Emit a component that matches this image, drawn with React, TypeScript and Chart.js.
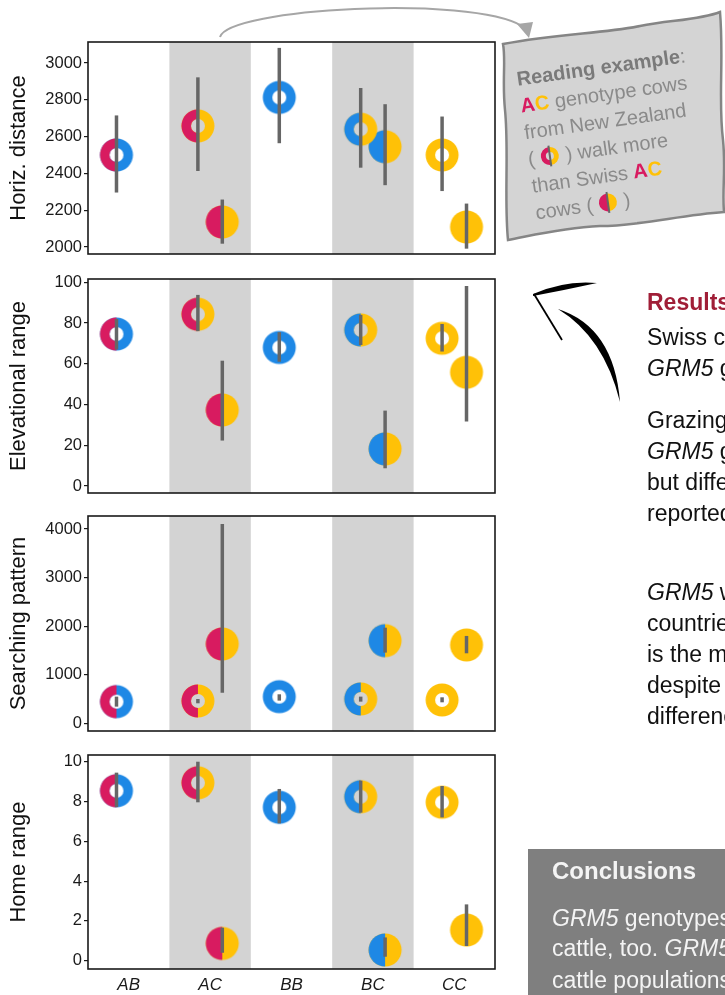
import React, { useEffect, useRef } from 'react';
import { Chart, registerables } from 'chart.js';

Chart.register(...registerables);

// ---------------- data ----------------
const categories = ['AB', 'AC', 'BB', 'BC', 'CC'];
const shadedCategories = ['AC', 'BC'];

// Horizontal distance
const horizTicks = [2000, 2200, 2400, 2600, 2800, 3000];
const horizNZ = [2500, 2658, 2813, 2640, 2500];
const horizNZLo = [2296, 2413, 2564, 2431, 2304];
const horizNZHi = [2715, 2922, 3082, 2864, 2709];
const horizCH = [null, 2136, null, 2545, 2109];
const horizCHLo = [null, 2018, null, 2336, 1991];
const horizCHHi = [null, 2258, null, 2776, 2236];

// Elevational range
const elevTicks = [0, 20, 40, 60, 80, 100];
const elevNZ = [74.6, 84.3, 68, 76.6, 72.5];
const elevNZLo = [67, 76, 61, 69.2, 66];
const elevNZHi = [82, 93.8, 75.5, 84, 79.5];
const elevCH = [null, 37.3, null, 18.2, 55.8];
const elevCHLo = [null, 22.3, null, 8.7, 31.6];
const elevCHHi = [null, 61.5, null, 37, 98.2];

// Searching pattern
const searchTicks = [0, 1000, 2000, 3000, 4000];
const searchNZ = [446, 460, 549, 501, 480];
const searchNZLo = [343, 412, 467, 446, 432];
const searchNZHi = [549, 500, 597, 549, 535];
const searchCH = [null, 1633, null, 1702, 1612];
const searchCHLo = [null, 631, null, 1455, 1441];
const searchCHHi = [null, 4103, null, 1969, 1798];

// Home range
const homeTicks = [0, 2, 4, 6, 8, 10];
const homeNZ = [8.54, 8.94, 7.71, 8.24, 7.96];
const homeNZLo = [7.72, 7.96, 6.9, 7.44, 7.2];
const homeNZHi = [9.45, 10.0, 8.63, 9.05, 8.78];
const homeCH = [null, 0.87, null, 0.54, 1.54];
const homeCHLo = [null, 0.4, null, 0.2, 0.74];
const homeCHHi = [null, 1.66, null, 1.17, 2.83];

// ---------------- styles ----------------
const FONT = "'Liberation Sans', Arial, Helvetica, sans-serif";
const PINK = '#D81B60';
const BLUE = '#1E88E5';
const YELLOW = '#FFC107';
const alleleColor: Record<string, string> = { A: PINK, B: BLUE, C: YELLOW };
const ERR = '#666666';
const BAND = '#D3D3D3';
const OFFSET = 0.15;

function makeMarker(g: string, filled: boolean): HTMLCanvasElement {
  const s = 36;
  const c = document.createElement('canvas');
  c.width = s;
  c.height = s;
  const ctx = c.getContext('2d')!;
  const cx = s / 2, cy = s / 2, R = 16.5, r = 7;
  ctx.beginPath();
  ctx.arc(cx, cy, R, 0, Math.PI * 2);
  if (!filled) ctx.arc(cx, cy, r, 0, Math.PI * 2, true);
  ctx.fillStyle = alleleColor[g[1]];
  ctx.fill('evenodd');
  if (g[0] !== g[1]) {
    ctx.beginPath();
    ctx.arc(cx, cy, R, Math.PI / 2, Math.PI * 1.5);
    if (!filled) ctx.arc(cx, cy, r, Math.PI * 1.5, Math.PI / 2, true);
    else ctx.lineTo(cx, cy + R);
    ctx.closePath();
    ctx.fillStyle = alleleColor[g[0]];
    ctx.fill();
  }
  return c;
}

type Vals = (number | null)[];
interface PanelProps {
  title: string;
  ticks: number[];
  min: number;
  max: number;
  nz: Vals; nzLo: Vals; nzHi: Vals;
  ch: Vals; chLo: Vals; chHi: Vals;
  top: number;
  height: number;
  showX: boolean;
}

function Panel(p: PanelProps) {
  const ref = useRef<HTMLCanvasElement>(null);
  useEffect(() => {
    const markers: Record<string, { ring: HTMLCanvasElement; full: HTMLCanvasElement }> = {};
    categories.forEach((g) => {
      markers[g] = { ring: makeMarker(g, false), full: makeMarker(g, true) };
    });
    const mk = (vals: Vals, off: number) =>
      vals
        .map((v, i) => (v == null ? null : { x: i + 1 + off, y: v, g: categories[i] }))
        .filter((d) => d != null);

    const decor = {
      id: 'decor',
      beforeDatasetsDraw(chart: any) {
        const { ctx, chartArea: a, scales } = chart;
        const x = scales.x;
        ctx.save();
        ctx.fillStyle = BAND;
        categories.forEach((c, i) => {
          if (!shadedCategories.includes(c)) return;
          const l = x.getPixelForValue(i + 0.5);
          const r = x.getPixelForValue(i + 1.5);
          ctx.fillRect(l, a.top, r - l, a.bottom - a.top);
        });
        ctx.restore();
      },
      afterDatasetsDraw(chart: any) {
        const { ctx, chartArea: a, scales } = chart;
        const x = scales.x, y = scales.y;
        ctx.save();
        ctx.strokeStyle = ERR;
        ctx.lineWidth = 3.5;
        ctx.lineCap = 'butt';
        const draw = (lo: Vals, hi: Vals, off: number) => {
          lo.forEach((l, i) => {
            const h = hi[i];
            if (l == null || h == null) return;
            const px = x.getPixelForValue(i + 1 + off);
            ctx.beginPath();
            ctx.moveTo(px, y.getPixelForValue(l));
            ctx.lineTo(px, y.getPixelForValue(h));
            ctx.stroke();
          });
        };
        draw(p.nzLo, p.nzHi, -OFFSET);
        draw(p.chLo, p.chHi, OFFSET);
        ctx.strokeStyle = '#1a1a1a';
        ctx.lineWidth = 1.6;
        ctx.strokeRect(a.left, a.top, a.right - a.left, a.bottom - a.top);
        ctx.restore();
      },
    };

    const chart = new Chart(ref.current!, {
      type: 'scatter',
      data: {
        datasets: [
          {
            label: 'New Zealand',
            data: mk(p.nz, -OFFSET) as any,
            pointRadius: 16,
            pointStyle: (c: any) => (c.raw ? markers[c.raw.g].ring : 'circle'),
          },
          {
            label: 'Switzerland',
            data: mk(p.ch, OFFSET) as any,
            pointRadius: 16,
            pointStyle: (c: any) => (c.raw ? markers[c.raw.g].full : 'circle'),
          },
        ],
      },
      options: {
        animation: false,
        responsive: false,
        events: [],
        layout: {
          autoPadding: false,
          padding: { top: 12, bottom: p.showX ? 0 : 12, left: 0, right: 5 },
        },
        plugins: { legend: { display: false }, tooltip: { enabled: false } },
        datasets: { scatter: { clip: false } as any },
        scales: {
          x: {
            type: 'linear',
            min: 0.5,
            max: 5.5,
            display: p.showX,
            grid: { display: false, drawTicks: false },
            border: { display: false },
            afterBuildTicks: (s: any) => {
              s.ticks = categories.map((_, i) => ({ value: i + 1 }));
            },
            afterFit: (s: any) => {
              s.height = p.showX ? 30 : 0;
              s.paddingLeft = 0;
              s.paddingRight = 0;
              s.paddingTop = 0;
              s.paddingBottom = 0;
            },
            ticks: {
              autoSkip: false,
              maxRotation: 0,
              padding: 6,
              color: '#1a1a1a',
              font: { family: FONT, size: 17, style: 'italic' },
              callback: (v: any) => categories[Math.round(Number(v)) - 1] ?? '',
            },
          },
          y: {
            type: 'linear',
            min: p.min,
            max: p.max,
            afterBuildTicks: (s: any) => {
              s.ticks = p.ticks.map((v) => ({ value: v }));
            },
            afterFit: (s: any) => {
              s.width = 88;
              s.paddingLeft = 0;
              s.paddingRight = 0;
              s.paddingTop = 0;
              s.paddingBottom = 0;
            },
            grid: { drawOnChartArea: false, drawTicks: true, tickLength: 4, color: '#1a1a1a', lineWidth: 1.2 },
            border: { display: false },
            ticks: {
              padding: 2,
              color: '#1a1a1a',
              font: { family: FONT, size: 16.5 },
              callback: (v: any) => String(v),
            },
            title: {
              display: true,
              text: p.title,
              color: '#111',
              font: { family: FONT, size: 22 },
              padding: { top: 6, bottom: 0 },
            },
          },
        },
      },
      plugins: [decor],
    } as any);
    return () => chart.destroy();
  }, []);
  return (
    <canvas
      ref={ref}
      width={500}
      height={p.height}
      style={{ position: 'absolute', left: 0, top: p.top, width: 500, height: p.height }}
    />
  );
}

function Icon({ filled }: { filled: boolean }) {
  return (
    <svg width="20" height="22" viewBox="0 0 20 22" style={{ verticalAlign: '-4px' }}>
      {filled ? (
        <>
          <path d="M10 2 A9 9 0 0 0 10 20 Z" fill={PINK} />
          <path d="M10 2 A9 9 0 0 1 10 20 Z" fill={YELLOW} />
        </>
      ) : (
        <>
          <path d="M10 2 A9 9 0 0 0 10 20 L10 15 A4 4 0 0 1 10 7 Z" fill={PINK} />
          <path d="M10 2 A9 9 0 0 1 10 20 L10 15 A4 4 0 0 0 10 7 Z" fill={YELLOW} />
        </>
      )}
      <line x1="10" y1="0.5" x2="10" y2="21.5" stroke="#666" strokeWidth="2" />
    </svg>
  );
}

function TextLine({ x, y, size, lh, children, style }: any) {
  return (
    <div
      style={{
        position: 'absolute',
        left: x,
        top: y - lh / 2,
        height: lh,
        lineHeight: lh + 'px',
        fontSize: size,
        fontFamily: FONT,
        whiteSpace: 'nowrap',
        ...style,
      }}
    >
      {children}
    </div>
  );
}

export default function App() {
  const I = (t: string) => <i>{t}</i>;
  const resultsLines: [number, React.ReactNode][] = [
    [337, <>Swiss cows differed</>],
    [368, <>{I('GRM5')} genotypes</>],
    [420, <>Grazing behaviour</>],
    [451, <>{I('GRM5')} genotypes</>],
    [482, <>but different</>],
    [513, <>reported</>],
    [592, <>{I('GRM5')} was</>],
    [623, <>countries</>],
    [654, <>is the most</>],
    [685, <>despite</>],
    [716, <>differences</>],
  ];
  return (
    <div
      style={{
        position: 'fixed',
        left: 0,
        top: 0,
        width: 725,
        height: 995,
        overflow: 'hidden',
        background: '#ffffff',
      }}
    >
      <Panel title="Horiz. distance" ticks={horizTicks} min={1962} max={3114}
        nz={horizNZ} nzLo={horizNZLo} nzHi={horizNZHi} ch={horizCH} chLo={horizCHLo} chHi={horizCHHi}
        top={30} height={236} showX={false} />
      <Panel title="Elevational range" ticks={elevTicks} min={-3.44} max={101.6}
        nz={elevNZ} nzLo={elevNZLo} nzHi={elevNZHi} ch={elevCH} chLo={elevCHLo} chHi={elevCHHi}
        top={267} height={238} showX={false} />
      <Panel title="Searching pattern" ticks={searchTicks} min={-158.5} max={4267.6}
        nz={searchNZ} nzLo={searchNZLo} nzHi={searchNZHi} ch={searchCH} chLo={searchCHLo} chHi={searchCHHi}
        top={504} height={239} showX={false} />
      <Panel title="Home range" ticks={homeTicks} min={-0.417} max={10.337}
        nz={homeNZ} nzLo={homeNZLo} nzHi={homeNZHi} ch={homeCH} chLo={homeCHLo} chHi={homeCHHi}
        top={743} height={256} showX={true} />

      <svg width="725" height="995" style={{ position: 'absolute', left: 0, top: 0, pointerEvents: 'none' }}>
        <path
          d="M 503 44 C 560 33, 600 34, 640 26 C 670 20, 700 20, 720 12 C 724 60, 718 100, 723 140 C 726 170, 722 190, 724 212 C 680 215, 640 226, 600 226 C 560 228, 530 236, 508 240 C 504 200, 509 150, 505 110 C 502 80, 506 60, 503 44 Z"
          fill="#D4D4D4"
          stroke="#858585"
          strokeWidth="2.5"
        />
        <path d="M 220 37 C 228 8, 470 -5, 522 26" fill="none" stroke="#A6A6A6" strokeWidth="2" />
        <path d="M 517 24 L 533 22 L 529 38 Z" fill="#A6A6A6" />
        <path d="M 533 294 Q 565 280 597 283 Q 565 290 533 296 Z" fill="#000" />
        <path d="M 534 294 L 562 340" stroke="#000" strokeWidth="1.8" fill="none" />
        <path d="M 558 309 Q 614 327 620 402 Q 604 337 558 309 Z" fill="#000" />
      </svg>

      <div
        style={{
          position: 'absolute',
          left: 515,
          top: 66,
          transform: 'rotate(-8deg)',
          transformOrigin: '0 0',
          fontFamily: FONT,
          fontSize: 20,
          lineHeight: '27px',
          color: '#8A8A8A',
          whiteSpace: 'nowrap',
        }}
      >
        <div><b style={{ color: '#7A7A7A' }}>Reading example</b>:</div>
        <div><b style={{ color: PINK }}>A</b><b style={{ color: YELLOW }}>C</b> genotype cows</div>
        <div>from New Zealand</div>
        <div>( <Icon filled={false} /> ) walk more</div>
        <div>than Swiss <b style={{ color: PINK }}>A</b><b style={{ color: YELLOW }}>C</b></div>
        <div>cows ( <Icon filled={true} /> )</div>
      </div>

      <TextLine x={647} y={302} size={23} lh={30} style={{ fontWeight: 'bold', color: '#A01E37' }}>
        Results
      </TextLine>
      {resultsLines.map(([y, t], i) => (
        <TextLine key={i} x={647} y={y} size={23} lh={30} style={{ color: '#111' }}>
          {t}
        </TextLine>
      ))}

      <div style={{ position: 'absolute', left: 528, top: 849, width: 197, height: 146, background: '#7F7F7F' }} />
      <TextLine x={552} y={871} size={24} lh={30} style={{ fontWeight: 'bold', color: '#F4F4F4' }}>
        Conclusions
      </TextLine>
      <TextLine x={552} y={918} size={23} lh={30} style={{ color: '#F4F4F4' }}>
        {I('GRM5')} genotypes
      </TextLine>
      <TextLine x={552} y={948} size={23} lh={30} style={{ color: '#F4F4F4' }}>
        cattle, too. {I('GRM5')}
      </TextLine>
      <TextLine x={552} y={980} size={23} lh={30} style={{ color: '#F4F4F4' }}>
        cattle populations
      </TextLine>
    </div>
  );
}
